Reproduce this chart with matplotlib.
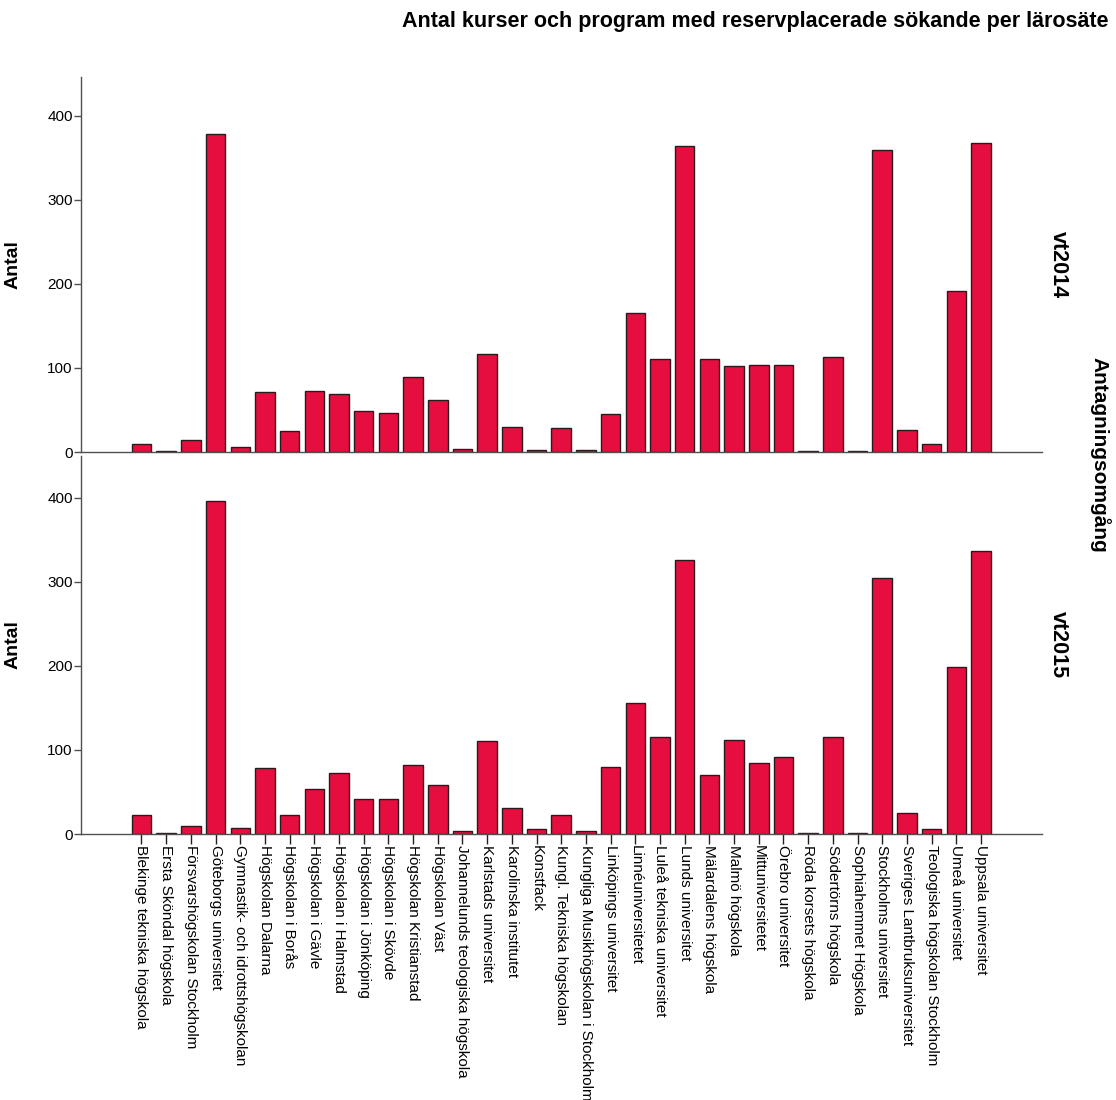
import numpy as np
import matplotlib.pyplot as plt

plt.rcParams['font.family'] = ['Liberation Sans', 'DejaVu Sans']

# Lärosäten (x-axis categories)
schools = [
    "Blekinge tekniska högskola", "Ersta Sköndal högskola", "Försvarshögskolan Stockholm",
    "Göteborgs universitet", "Gymnastik- och idrottshögskolan", "Högskolan Dalarna",
    "Högskolan i Borås", "Högskolan i Gävle", "Högskolan i Halmstad", "Högskolan i Jönköping",
    "Högskolan i Skövde", "Högskolan Kristianstad", "Högskolan Väst",
    "Johannelunds teologiska högskola", "Karlstads universitet", "Karolinska institutet",
    "Konstfack", "Kungl. Tekniska högskolan", "Kungliga Musikhögskolan i Stockholm",
    "Linköpings universitet", "Linnéuniversitetet", "Luleå tekniska universitet",
    "Lunds universitet", "Mälardalens högskola", "Malmö högskola", "Mittuniversitetet",
    "Örebro universitet", "Röda korsets högskola", "Södertörns högskola",
    "Sophiahemmet Högskola", "Stockholms universitet", "Sveriges Lantbruksuniversitet",
    "Teologiska högskolan Stockholm", "Umeå universitet", "Uppsala universitet",
]

# Antal per antagningsomgång
vt2014 = [10, 1, 14, 378, 6, 71, 25, 72, 69, 49, 46, 89, 62, 4, 117, 30, 2, 28, 2,
          45, 165, 110, 364, 111, 102, 103, 103, 1, 113, 1, 359, 26, 9, 192, 368]
vt2015 = [22, 1, 10, 396, 7, 79, 23, 54, 73, 42, 42, 82, 58, 3, 110, 31, 6, 23, 3,
          80, 156, 115, 326, 70, 112, 85, 92, 1, 115, 1, 304, 25, 6, 199, 336]

panels = [("vt2014", vt2014), ("vt2015", vt2015)]

bar_color = "#E60E3E"
edge_color = "#2a1a1e"
spine_color = "#505050"

fig = plt.figure(figsize=(11.16, 11), dpi=100)
W, H = 1116, 1100
left, right = 81, 1042
boxes = [(77, 452), (456, 834)]

x = np.arange(len(schools))
for i, ((name, vals), (top, bottom)) in enumerate(zip(panels, boxes)):
    ax = fig.add_axes([left / W, 1 - bottom / H, (right - left) / W, (bottom - top) / H])
    ax.bar(x, vals, width=0.79, color=bar_color, edgecolor=edge_color, linewidth=1.0)
    ax.set_xlim(-2.45, len(schools) - 1 + 2.47)
    ax.set_ylim(0, (bottom - top) / 0.841)
    ax.set_yticks([0, 100, 200, 300, 400])
    for s in ["top", "right"]:
        ax.spines[s].set_visible(False)
    for s in ["left", "bottom"]:
        ax.spines[s].set_color(spine_color)
        ax.spines[s].set_linewidth(1.0)
    ax.tick_params(axis="y", direction="out", length=5, width=1, color=spine_color,
                   labelsize=11, pad=1)
    ax.set_ylabel("Antal", fontsize=14, fontweight="bold")
    ax.yaxis.set_label_coords((22 - left) / (right - left), 0.5)
    if i == 0:
        ax.tick_params(axis="x", bottom=False, labelbottom=False)
    else:
        ax.set_xticks(x)
        ax.set_xticklabels(schools, rotation=-90, ha="center", va="top", fontsize=11)
        ax.tick_params(axis="x", direction="out", length=7, width=1, color="#202020", pad=1)
    fig.text(1058 / W, 1 - (top + bottom) / 2 / H, name, rotation=-90, ha="center",
             va="center", fontsize=15.5, fontweight="bold")

fig.text(1100 / W, 1 - 455 / H, "Antagningsomgång", rotation=-90, ha="center",
         va="center", fontsize=15, fontweight="bold")
fig.text(1108 / W, 1 - 22 / H, "Antal kurser och program med reservplacerade sökande per lärosäte",
         ha="right", va="center", fontsize=15.5, fontweight="bold")

fig.savefig("out.png", dpi=100, facecolor="white")
